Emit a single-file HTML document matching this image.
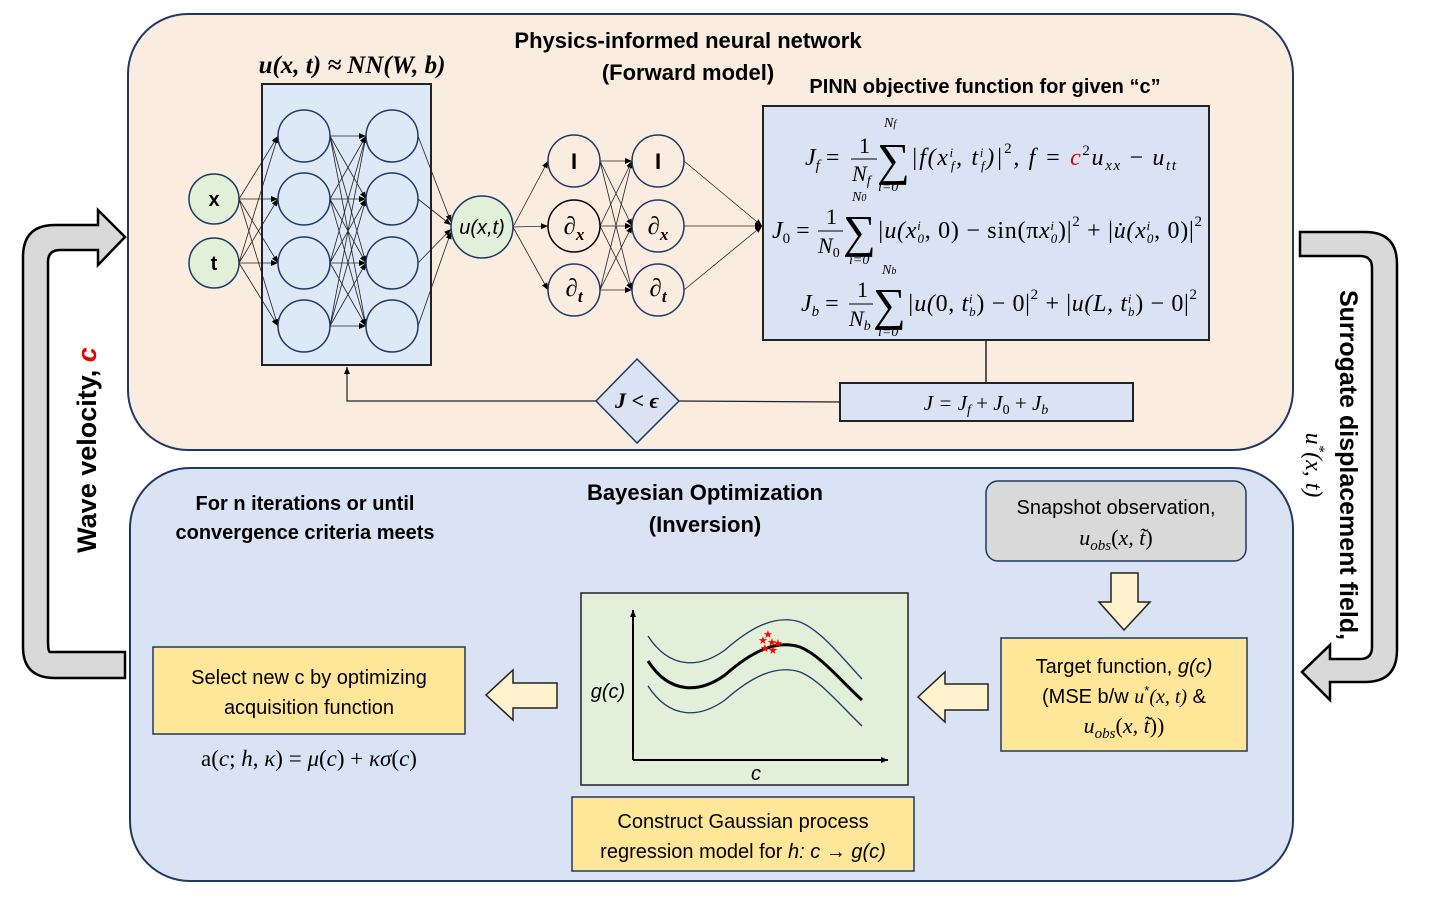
<!DOCTYPE html>
<html><head><meta charset="utf-8"><style>
html,body{margin:0;padding:0;background:#fff}
svg{display:block}
.b{font-family:"Liberation Sans",sans-serif;font-weight:bold}
.s{font-family:"Liberation Sans",sans-serif}
.m{font-family:"Liberation Serif",serif;font-style:italic}
.r{font-family:"Liberation Serif",serif}
</style></head><body>
<svg width="1429" height="897" viewBox="0 0 1429 897" xmlns="http://www.w3.org/2000/svg">
<defs>
<marker id="a" markerWidth="8" markerHeight="8" refX="7" refY="4" orient="auto" markerUnits="userSpaceOnUse"><path d="M0,1 L7,4 L0,7z" fill="#000"/></marker>
</defs>
<rect x="128" y="14" width="1165" height="436" rx="60" fill="#fbece0" stroke="#1f3864" stroke-width="2"/>
<rect x="130" y="468" width="1163" height="413" rx="60" fill="#dae3f3" stroke="#1f3864" stroke-width="2"/>
<path d="M125,652 L50,652 Q48,652 48,640 L48,262 Q48,250 60,250 L98,250 L98,265 L125,237 L98,210 L98,225 L55,225 Q23,225 23,257 L23,647 Q23,678 55,678 L125,678 Z" fill="#d9d9d9" stroke="#000" stroke-width="2.5"/>
<path d="M1300,232 L1365,232 Q1397,232 1397,264 L1397,650 Q1397,682 1365,682 L1330,682 L1330,700 L1302,672 L1330,645 L1330,659 L1360,659 Q1372,659 1372,647 L1372,268 Q1372,256 1360,256 L1300,256 Z" fill="#d9d9d9" stroke="#000" stroke-width="2.5"/>
<text class="b" font-size="27" transform="translate(96,450) rotate(-90)" text-anchor="middle">Wave velocity, <tspan fill="#e00000" font-style="italic">c</tspan></text>
<text class="b" font-size="25" transform="translate(1340,465) rotate(90)" text-anchor="middle">Surrogate displacement field,</text>
<text class="m" font-size="24" transform="translate(1306,465) rotate(90)" text-anchor="middle">u<tspan font-size="15" dy="-9">*</tspan><tspan dy="9">(x, t)</tspan></text>
<text class="b" font-size="22" x="688" y="48" text-anchor="middle">Physics-informed neural network</text>
<text class="b" font-size="22" x="688" y="80" text-anchor="middle">(Forward model)</text>
<text class="b" font-size="20" x="985" y="93" text-anchor="middle">PINN objective function for given “c”</text>
<text class="m" font-size="25" font-weight="bold" x="352" y="73" text-anchor="middle">u(x, t)  ≈ NN(W, b)</text>
<rect x="262" y="84" width="169" height="281" fill="#dde9f6" stroke="#222" stroke-width="2"/>
<g stroke="#222" stroke-width="0.8" marker-end="url(#a)">
<line x1="239" y1="199" x2="278" y2="136"/><line x1="239" y1="199" x2="278" y2="199"/><line x1="239" y1="199" x2="278" y2="263"/><line x1="239" y1="199" x2="278" y2="326"/>
<line x1="239" y1="263" x2="278" y2="136"/><line x1="239" y1="263" x2="278" y2="199"/><line x1="239" y1="263" x2="278" y2="263"/><line x1="239" y1="263" x2="278" y2="326"/>
<line x1="330" y1="136" x2="366" y2="136"/><line x1="330" y1="136" x2="366" y2="199"/><line x1="330" y1="136" x2="366" y2="263"/><line x1="330" y1="136" x2="366" y2="326"/>
<line x1="330" y1="199" x2="366" y2="136"/><line x1="330" y1="199" x2="366" y2="199"/><line x1="330" y1="199" x2="366" y2="263"/><line x1="330" y1="199" x2="366" y2="326"/>
<line x1="330" y1="263" x2="366" y2="136"/><line x1="330" y1="263" x2="366" y2="199"/><line x1="330" y1="263" x2="366" y2="263"/><line x1="330" y1="263" x2="366" y2="326"/>
<line x1="330" y1="326" x2="366" y2="136"/><line x1="330" y1="326" x2="366" y2="199"/><line x1="330" y1="326" x2="366" y2="263"/><line x1="330" y1="326" x2="366" y2="326"/>
<line x1="418" y1="136" x2="451" y2="222"/><line x1="418" y1="199" x2="451" y2="225"/><line x1="418" y1="263" x2="451" y2="229"/><line x1="418" y1="326" x2="451" y2="232"/>
<line x1="513" y1="227" x2="548" y2="161"/><line x1="513" y1="227" x2="548" y2="226"/><line x1="513" y1="227" x2="548" y2="290"/>
<line x1="600" y1="161" x2="632" y2="161"/><line x1="600" y1="161" x2="632" y2="226"/><line x1="600" y1="161" x2="632" y2="290"/>
<line x1="600" y1="226" x2="632" y2="161"/><line x1="600" y1="226" x2="632" y2="226"/><line x1="600" y1="226" x2="632" y2="290"/>
<line x1="600" y1="290" x2="632" y2="161"/><line x1="600" y1="290" x2="632" y2="226"/><line x1="600" y1="290" x2="632" y2="290"/>
<line x1="684" y1="161" x2="762" y2="226"/><line x1="684" y1="226" x2="762" y2="226"/><line x1="684" y1="290" x2="762" y2="226"/>
</g>
<g fill="#dde9f6" stroke="#1f3864" stroke-width="1.5">
<circle cx="304" cy="136" r="26"/><circle cx="304" cy="199" r="26"/><circle cx="304" cy="263" r="26"/><circle cx="304" cy="326" r="26"/>
<circle cx="392" cy="136" r="26"/><circle cx="392" cy="199" r="26"/><circle cx="392" cy="263" r="26"/><circle cx="392" cy="326" r="26"/>
</g>
<g fill="#e2efd9" stroke="#1f3864" stroke-width="1.5">
<circle cx="214" cy="199" r="25"/><circle cx="214" cy="263" r="25"/><circle cx="482" cy="227" r="31"/>
</g>
<g fill="#fbece0" stroke="#1f3864" stroke-width="1.5">
<circle cx="574" cy="161" r="26"/><circle cx="574" cy="226" r="26" stroke="#000"/><circle cx="574" cy="290" r="26"/>
<circle cx="658" cy="161" r="26"/><circle cx="658" cy="226" r="26"/><circle cx="658" cy="290" r="26"/>
</g>
<text class="b" font-size="20" x="214" y="206" text-anchor="middle">x</text>
<text class="b" font-size="20" x="214" y="270" text-anchor="middle">t</text>
<text class="s" font-style="italic" font-size="20" x="482" y="234" text-anchor="middle">u(x,t)</text>
<text class="b" font-size="22" x="574" y="169" text-anchor="middle">I</text>
<text class="b" font-size="22" x="658" y="169" text-anchor="middle">I</text>
<g class="m" font-size="25" font-weight="bold" text-anchor="middle">
<text x="574" y="234">∂<tspan font-size="17" dy="6">x</tspan></text>
<text x="658" y="234">∂<tspan font-size="17" dy="6">x</tspan></text>
<text x="574" y="296">∂<tspan font-size="17" dy="6">t</tspan></text>
<text x="658" y="296">∂<tspan font-size="17" dy="6">t</tspan></text>
</g>
<rect x="763" y="106" width="446" height="234" fill="#dae3f3" stroke="#222" stroke-width="2"/>
<g class="m" font-size="24">
<text x="805" y="165">J<tspan font-size="15" dy="5">f</tspan><tspan dy="-5" font-style="normal"> = </tspan></text>
<text x="859" y="153" font-style="normal" font-size="22">1</text><line x1="851" y1="159" x2="877" y2="159" stroke="#000"/><text x="852" y="181" font-size="22">N<tspan font-size="14" dy="4">f</tspan></text>
<text x="877" y="175" font-style="normal" font-size="46">∑</text><text x="884" y="127" font-size="14">N<tspan font-size="10">f</tspan></text><text x="878" y="191" font-size="14">i=0</text>
<text x="911" y="165" textLength="265" lengthAdjust="spacing">|f(x<tspan font-size="13" dy="-8">i</tspan><tspan font-size="13" dx="-4" dy="13">f</tspan><tspan dy="-5">, t</tspan><tspan font-size="13" dy="-8">i</tspan><tspan font-size="13" dx="-4" dy="13">f</tspan><tspan dy="-5">)|</tspan><tspan font-size="15" dy="-12" font-style="normal">2</tspan><tspan dy="12">, f = </tspan><tspan fill="#e00000">c</tspan><tspan font-size="15" dy="-10" font-style="normal">2</tspan><tspan dy="10">u</tspan><tspan font-size="15" dy="5">xx</tspan><tspan dy="-5" font-style="normal"> − </tspan>u<tspan font-size="15" dy="5">tt</tspan></text>
<text x="772" y="238">J<tspan font-size="15" dy="5" font-style="normal">0</tspan><tspan dy="-5" font-style="normal"> = </tspan></text>
<text x="826" y="224" font-style="normal" font-size="22">1</text><line x1="818" y1="231" x2="843" y2="231" stroke="#000"/><text x="818" y="253" font-size="22">N<tspan font-size="14" dy="4" font-style="normal">0</tspan></text>
<text x="843" y="247" font-style="normal" font-size="46">∑</text><text x="852" y="201" font-size="14">N<tspan font-size="10">0</tspan></text><text x="849" y="264" font-size="14">i=0</text>
<text x="877" y="238" textLength="325" lengthAdjust="spacing">|u(x<tspan font-size="13" dy="-8">i</tspan><tspan font-size="13" dx="-4" dy="13">0</tspan><tspan dy="-5" font-style="normal">, 0) − sin(π</tspan>x<tspan font-size="13" dy="-8">i</tspan><tspan font-size="13" dx="-4" dy="13">0</tspan><tspan dy="-5" font-style="normal">)|</tspan><tspan font-size="15" dy="-12" font-style="normal">2</tspan><tspan dy="12" font-style="normal"> + |</tspan>u̇(x<tspan font-size="13" dy="-8">i</tspan><tspan font-size="13" dx="-4" dy="13">0</tspan><tspan dy="-5" font-style="normal">, 0)|</tspan><tspan font-size="15" dy="-12" font-style="normal">2</tspan></text>
<text x="801" y="311">J<tspan font-size="15" dy="5">b</tspan><tspan dy="-5" font-style="normal"> = </tspan></text>
<text x="857" y="297" font-style="normal" font-size="22">1</text><line x1="849" y1="304" x2="873" y2="304" stroke="#000"/><text x="849" y="326" font-size="22">N<tspan font-size="14" dy="4">b</tspan></text>
<text x="873" y="320" font-style="normal" font-size="46">∑</text><text x="882" y="274" font-size="14">N<tspan font-size="10">b</tspan></text><text x="878" y="336" font-size="14">i=0</text>
<text x="907" y="311" textLength="290" lengthAdjust="spacing">|u(<tspan font-style="normal">0, </tspan>t<tspan font-size="13" dy="-8">i</tspan><tspan font-size="13" dx="-4" dy="13">b</tspan><tspan dy="-5" font-style="normal">) − 0|</tspan><tspan font-size="15" dy="-12" font-style="normal">2</tspan><tspan dy="12" font-style="normal"> + |</tspan>u(L, t<tspan font-size="13" dy="-8">i</tspan><tspan font-size="13" dx="-4" dy="13">b</tspan><tspan dy="-5" font-style="normal">) − 0|</tspan><tspan font-size="15" dy="-12" font-style="normal">2</tspan></text>
</g>
<line x1="986" y1="340" x2="986" y2="383" stroke="#222" stroke-width="1.5"/>
<rect x="840" y="383" width="293" height="38" fill="#dae3f3" stroke="#222" stroke-width="2"/>
<text class="m" font-size="21" x="986" y="410" text-anchor="middle">J = J<tspan font-size="14" dy="4">f</tspan><tspan dy="-4" font-style="normal"> + </tspan>J<tspan font-size="14" dy="4" font-style="normal">0</tspan><tspan dy="-4" font-style="normal"> + </tspan>J<tspan font-size="14" dy="4">b</tspan></text>
<line x1="840" y1="402" x2="679" y2="401" stroke="#222" stroke-width="1.2"/>
<polyline points="596,401 347,401 347,367" fill="none" stroke="#222" stroke-width="1.2" marker-end="url(#a)"/>
<polygon points="637,359 679,401 637,443 596,401" fill="#dae3f3" stroke="#1f3864" stroke-width="1.5"/>
<text class="m" font-size="22" font-weight="bold" x="637" y="408" text-anchor="middle">J &lt; ϵ</text>
<text class="b" font-size="22" x="705" y="500" text-anchor="middle">Bayesian Optimization</text>
<text class="b" font-size="22" x="705" y="532" text-anchor="middle">(Inversion)</text>
<text class="b" font-size="20" x="305" y="510" text-anchor="middle">For n iterations or until</text>
<text class="b" font-size="20" x="305" y="539" text-anchor="middle">convergence criteria meets</text>
<rect x="986" y="481" width="260" height="80" rx="12" fill="#d9d9d9" stroke="#1f3864" stroke-width="1.5"/>
<text class="s" font-size="20" x="1116" y="514" text-anchor="middle">Snapshot observation,</text>
<text class="m" font-size="22" x="1116" y="545" text-anchor="middle">u<tspan font-size="15" dy="5">obs</tspan><tspan dy="-5" font-style="normal">(</tspan>x, t̃<tspan font-style="normal">)</tspan></text>
<polygon points="1111,573 1138,573 1138,602 1150,602 1124,630 1099,602 1111,602" fill="#fff2cc" stroke="#222" stroke-width="1.5"/>
<rect x="1001" y="638" width="246" height="113" fill="#ffe699" stroke="#1f3864" stroke-width="1.5"/>
<text class="s" font-size="20" x="1124" y="673" text-anchor="middle">Target function, <tspan font-style="italic">g(c)</tspan></text>
<text class="s" font-size="20" x="1124" y="703" text-anchor="middle">(MSE b/w <tspan class="m">u</tspan><tspan font-size="13" dy="-8">*</tspan><tspan dy="8" class="m">(x, t)</tspan> &amp;</text>
<text class="m" font-size="22" x="1124" y="733" text-anchor="middle">u<tspan font-size="15" dy="5">obs</tspan><tspan dy="-5" font-style="normal">(</tspan>x, t̃<tspan font-style="normal">))</tspan></text>
<polygon points="988,684 988,710 945,710 945,722 918,697 945,672 945,684" fill="#fff2cc" stroke="#222" stroke-width="1.5"/>
<rect x="581" y="593" width="327" height="192" fill="#e2efd9" stroke="#222" stroke-width="1.5"/>
<line x1="633" y1="760" x2="633" y2="610" stroke="#000" stroke-width="2" marker-end="url(#a)"/>
<line x1="633" y1="760" x2="888" y2="760" stroke="#000" stroke-width="2" marker-end="url(#a)"/>
<path d="M648,636 C670,670 700,668 725,650 C750,628 775,614 800,622 C820,630 840,655 862,679" fill="none" stroke="#1f3864" stroke-width="1.3"/>
<path d="M648,661 C670,695 700,693 725,675 C750,653 775,639 800,647 C820,655 840,680 862,700" fill="none" stroke="#000" stroke-width="3"/>
<path d="M648,686 C670,720 700,718 725,700 C750,678 775,664 800,672 C820,680 840,705 862,726" fill="none" stroke="#1f3864" stroke-width="1.3"/>
<g fill="#f00" font-size="11" class="s"><text x="763" y="638">★</text><text x="758" y="644">★</text><text x="767" y="646">★</text><text x="773" y="647">★</text><text x="760" y="652">★</text><text x="768" y="654">★</text></g>
<text class="s" font-style="italic" font-size="20" x="608" y="698" text-anchor="middle">g(c)</text>
<text class="s" font-style="italic" font-size="20" x="756" y="780" text-anchor="middle">c</text>
<rect x="572" y="797" width="342" height="74" fill="#ffe699" stroke="#1f3864" stroke-width="1.5"/>
<text class="s" font-size="20" x="743" y="828" text-anchor="middle">Construct Gaussian process</text>
<text class="s" font-size="20" x="743" y="858" text-anchor="middle">regression model for <tspan font-style="italic">h: c → g(c)</tspan></text>
<polygon points="557,683 557,708 513,708 513,720 486,695 513,670 513,683" fill="#fff2cc" stroke="#222" stroke-width="1.5"/>
<rect x="153" y="647" width="312" height="87" fill="#ffe699" stroke="#1f3864" stroke-width="1.5"/>
<text class="s" font-size="20" x="309" y="684" text-anchor="middle">Select new c by optimizing</text>
<text class="s" font-size="20" x="309" y="714" text-anchor="middle">acquisition function</text>
<text class="r" font-size="23" x="309" y="766" text-anchor="middle">a(<tspan font-style="italic">c</tspan>; <tspan font-style="italic">h</tspan>, <tspan font-style="italic">κ</tspan>) = <tspan font-style="italic">μ</tspan>(<tspan font-style="italic">c</tspan>) + <tspan font-style="italic">κσ</tspan>(<tspan font-style="italic">c</tspan>)</text>
</svg>
</body></html>
